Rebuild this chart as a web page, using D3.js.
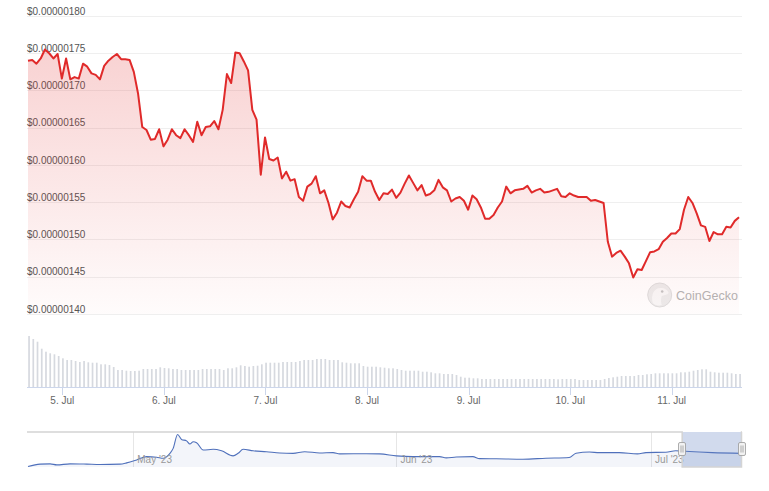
<!DOCTYPE html>
<html><head><meta charset="utf-8">
<script src="https://cdn.jsdelivr.net/npm/d3@7"></script>
<style>
body{margin:0;background:#fff}
svg{display:block}
text{font-family:"Liberation Sans",Arial,sans-serif}
</style>
</head><body>
<svg id="chart" width="769" height="491"></svg>
<script>
// ---- DATA ----
const startTime = "2023-07-04T15:54:00Z";   // first hourly point
const endTime   = "2023-07-11T16:22:00Z";   // right edge of main chart
// hourly price, in units of 1e-8 USD
const priceE8 = [
174.0,174.1,173.6,174.3,175.5,175.0,174.3,174.9,171.6,174.3,
171.5,171.8,171.6,173.6,173.2,172.3,172.1,171.5,173.3,174.0,
174.5,174.9,174.2,174.2,174.1,172.5,169.6,165.1,164.7,163.4,
163.5,164.8,162.5,163.4,164.8,164.0,163.6,164.8,164.0,163.1,
165.8,164.0,165.1,165.2,165.9,164.8,167.4,172.2,171.0,175.1,
175.0,173.9,172.7,167.4,166.1,158.7,163.7,160.8,160.6,161.0,
158.2,159.1,157.9,158.1,155.7,155.2,157.1,157.5,158.5,156.2,
156.6,154.9,152.7,153.6,155.1,154.5,154.3,155.4,156.4,158.5,
157.9,157.9,156.4,155.3,156.2,156.1,156.7,155.6,156.3,157.5,
158.6,157.6,156.6,157.3,155.9,156.1,156.6,158.0,157.0,156.6,
155.1,155.5,155.7,155.2,154.0,155.9,155.4,154.3,152.8,152.8,
153.3,154.3,155.1,157.1,156.2,156.6,156.7,156.8,157.2,156.3,
156.6,156.8,156.3,156.4,156.6,156.8,155.8,155.7,156.2,155.9,
155.7,155.7,155.7,155.2,155.3,155.1,154.9,149.7,147.7,148.2,
148.5,147.7,146.8,144.9,146.0,145.9,147.1,148.3,148.4,148.7,
149.7,150.2,150.8,150.8,151.4,154.0,155.7,154.9,153.5,151.9,
151.7,149.8,151.0,150.7,150.7,151.7,151.6,152.5,153.0
];
// hourly volume (relative units)
const volume = [
51,48,45.3,38.3,35.3,33.7,32.7,31,28.7,27,
27,26,25,26,24.7,24.3,24.3,22.7,22.7,22,
20,17,17,16.3,16,16,16.3,18,18,18,
18,19.7,19,18.7,18,18,17,17,17,17,
17,18,18,18,18,18,17,18.7,18.7,19.7,
21.7,21,20.3,21,21.3,22.7,24.3,24.3,24.3,24.3,
25,25,25,25,26,27,27,27,28,28,
28,27,27,27,24.7,24.3,23.7,23.7,23.7,21,
20.3,20.3,20.3,19.7,19.3,18.7,18.7,18,17,16.3,
16.3,16.3,16.3,15.3,15.3,14.7,13.7,13.7,13,13,
13,12,10.3,9.3,9.3,8.7,8.7,8,8,8,
8,8,8,8,8,8,8,8,8,8,
8,8,8,8,8,7.7,8,8,8,8,
7,7,7,7,7,7,8,9,9.7,10.3,
11,11,11,11,12,12,12.7,13,13.7,13.7,
13.7,13.7,13.7,13.7,14.7,14.7,15.3,16.3,17,17.7,
17.7,15.3,14.7,14.3,14.3,14.3,13.7,13,13
];
const priceTicksE8 = [140,145,150,155,160,165,170,175,180];
const dayTicks = ["2023-07-05","2023-07-06","2023-07-07","2023-07-08","2023-07-09","2023-07-10","2023-07-11"];

// navigator (longer history), days relative to navBase, price in 1e-6 USD
const navBase = "2023-05-01T00:00:00Z";
const navDays = [-12.4,-10.98,-9.8,-9.0,-7.45,-5.48,-3.92,-1.56,-0.78,0.4,
1.58,2.75,3.53,4.32,4.7,5.22,5.69,6.28,6.67,7.06,
7.46,8.24,9.41,10.4,11.76,12.35,12.94,14.12,15.69,17.26,
18.82,20.2,21.96,23.53,24.32,27.46,29.02,31.0,32.94,36.08,
36.87,38.05,40.0,40.8,42.75,45.9,48.6,51.35,52.16,53.73,
54.9,57.25,59.4,60.4,62.75,63.9,65.1,66.67,68.2,71.65];
const navPrice = [0.80,0.93,0.946,0.89,0.946,0.93,0.91,0.93,1.00,1.16,
1.34,1.31,1.25,1.52,1.79,2.55,2.28,2.20,2.03,2.15,
2.10,1.70,1.74,1.66,1.38,1.52,1.74,1.66,1.61,1.54,
1.52,1.61,1.54,1.56,1.49,1.50,1.49,1.38,1.34,1.34,
1.27,1.32,1.34,1.23,1.22,1.20,1.25,1.29,1.52,1.59,
1.56,1.56,1.49,1.56,1.58,1.66,1.63,1.59,1.56,1.52];
const navMonths = ["2023-05-01","2023-06-01","2023-07-01"];
const navMonthLabels = ["May '23","Jun '23","Jul '23"];

// ---- LAYOUT ----
const svg = d3.select("#chart");
const L = 28, R = 741;
const priceTop = 16, priceBottom = 314;
const volTop = 336, volBottom = 387;
const navTop = 432, navBottom = 467;

const t0 = new Date(startTime), tEnd = new Date(endTime);
const HOUR = 3600000;
const times = priceE8.map((_, i) => new Date(t0.getTime() + i * HOUR));
const prices = priceE8.map(v => v * 1e-8);

const x = d3.scaleUtc().domain([t0, tEnd]).range([L, R]);
const y = d3.scaleLinear().domain([140e-8, 180e-8]).range([priceBottom, priceTop]);
const yv = d3.scaleLinear().domain([0, d3.max(volume)]).range([volBottom, volTop]);

const defs = svg.append("defs");
const grad = defs.append("linearGradient").attr("id", "pg")
  .attr("gradientUnits", "userSpaceOnUse").attr("x1", 0).attr("x2", 0)
  .attr("y1", priceTop).attr("y2", priceBottom);
grad.append("stop").attr("offset", 0).attr("stop-color", "#e12d2d").attr("stop-opacity", 0.24);
grad.append("stop").attr("offset", 1).attr("stop-color", "#e12d2d").attr("stop-opacity", 0.015);

// grid + y labels
const yTicks = priceTicksE8.map(v => v * 1e-8);
svg.append("g").selectAll("line").data(yTicks).join("line")
  .attr("x1", L - 1).attr("x2", R + 1)
  .attr("y1", d => Math.round(y(d)) + 0.5).attr("y2", d => Math.round(y(d)) + 0.5)
  .attr("stroke", "#efefef").attr("stroke-width", 1);
const fmt = d3.format(".8f");
svg.append("g").selectAll("text").data(yTicks).join("text")
  .attr("x", 27).attr("y", d => y(d) - 1.5)
  .attr("font-size", 10).attr("fill", "#555")
  .text(d => "$" + fmt(d));

// watermark
const wm = svg.append("g").attr("transform", "translate(659.7,295)");
wm.append("circle").attr("r", 12).attr("fill", "#ececec").attr("stroke", "#dedede");
wm.append("path").attr("d", "M-7,8 C-9,0 -6,-7 1,-7 C5,-7 8,-5 9,-2 C7,0 4,0 2,1 C1,4 1,7 2,10 C-2,11 -5,10 -7,8 Z")
  .attr("fill", "#f8f8f8");
wm.append("circle").attr("cx", 2.5).attr("cy", -3.5).attr("r", 1.3).attr("fill", "#c4c4c4");
svg.append("text").attr("x", 676).attr("y", 299.5).attr("font-size", 12.5)
  .attr("fill", "#b4b4b4").text("CoinGecko");

// price area + line
const area = d3.area().x((d, i) => x(times[i])).y0(priceBottom).y1(d => y(d));
svg.append("path").datum(prices).attr("d", area).attr("fill", "url(#pg)");
const line = d3.line().x((d, i) => x(times[i])).y(d => y(d));
svg.append("path").datum(prices).attr("d", line).attr("fill", "none")
  .attr("stroke", "#e02a2a").attr("stroke-width", 2).attr("stroke-linejoin", "round");

// volume bars
svg.append("g").selectAll("rect").data(volume).join("rect")
  .attr("x", (d, i) => x(times[i]) + 0.2).attr("width", 1.7)
  .attr("y", d => yv(d)).attr("height", d => volBottom - yv(d))
  .attr("fill", "#d6d9df");

// x axis
svg.append("line").attr("x1", L - 1).attr("x2", R + 1).attr("y1", volBottom + 0.5).attr("y2", volBottom + 0.5)
  .attr("stroke", "#ccd6eb");
const dayDates = dayTicks.map(s => new Date(s + "T00:00:00Z"));
const dayFmt = d3.utcFormat("%-d. %b");
const xg = svg.append("g");
xg.selectAll("line").data(dayDates).join("line")
  .attr("x1", d => Math.round(x(d)) + 0.5).attr("x2", d => Math.round(x(d)) + 0.5)
  .attr("y1", volBottom).attr("y2", volBottom + 8).attr("stroke", "#ccd6eb");
xg.selectAll("text").data(dayDates).join("text")
  .attr("x", d => x(d)).attr("y", 403.5).attr("text-anchor", "middle")
  .attr("font-size", 10).attr("fill", "#666").text(d => dayFmt(d));

// ---- NAVIGATOR ----
const nb = new Date(navBase).getTime();
const navTimes = navDays.map(d => new Date(nb + d * 86400000));
const nx = d3.scaleUtc().domain(d3.extent(navTimes)).range([L, R + 0.5]);
const ny = d3.scaleLinear().domain(d3.extent(navPrice)).range([navBottom - 0.5, navTop + 2.5]);

const monthDates = navMonths.map(s => new Date(s + "T00:00:00Z"));
svg.append("g").selectAll("line").data(monthDates).join("line")
  .attr("x1", d => Math.round(nx(d)) + 0.5).attr("x2", d => Math.round(nx(d)) + 0.5)
  .attr("y1", navTop).attr("y2", navBottom).attr("stroke", "#e6e6e6");

const navArea = d3.area().x((d, i) => nx(navTimes[i])).y0(navBottom).y1(d => ny(d)).curve(d3.curveMonotoneX);
svg.append("path").datum(navPrice).attr("d", navArea).attr("fill", "#335cad").attr("fill-opacity", 0.06);
const navLine = d3.line().x((d, i) => nx(navTimes[i])).y(d => ny(d)).curve(d3.curveMonotoneX);
svg.append("path").datum(navPrice).attr("d", navLine).attr("fill", "none")
  .attr("stroke", "#4f70bb").attr("stroke-width", 1.1);

svg.append("g").selectAll("text").data(monthDates).join("text")
  .attr("x", d => nx(d) + 4).attr("y", 462.5).attr("font-size", 10)
  .attr("fill", "#999").text((d, i) => navMonthLabels[i]);

// selection
const s0 = nx(t0), s1 = Math.min(nx(tEnd), R + 0.5);
svg.append("rect").attr("x", s0).attr("y", navTop).attr("width", s1 - s0).attr("height", navBottom - navTop)
  .attr("fill", "rgba(102,133,194,0.3)");
// outline
svg.append("path")
  .attr("d", `M${L - 1},${navTop}H${s0}V${navBottom}H${s1}V${navTop}H${R + 1}`)
  .attr("fill", "none").attr("stroke", "#d4d4d4").attr("stroke-width", 1.5);
// handles
[s0, s1].forEach(hx => {
  const g = svg.append("g").attr("transform", `translate(${Math.round(hx)},449)`);
  g.append("rect").attr("x", -3.5).attr("y", -6.5).attr("width", 7).attr("height", 13).attr("rx", 1.5)
    .attr("fill", "#f2f2f2").attr("stroke", "#999").attr("stroke-width", 0.8);
  g.append("path").attr("d", "M-1,-3.5V3.5M1,-3.5V3.5").attr("stroke", "#999").attr("stroke-width", 0.8);
});
</script>
</body></html>
